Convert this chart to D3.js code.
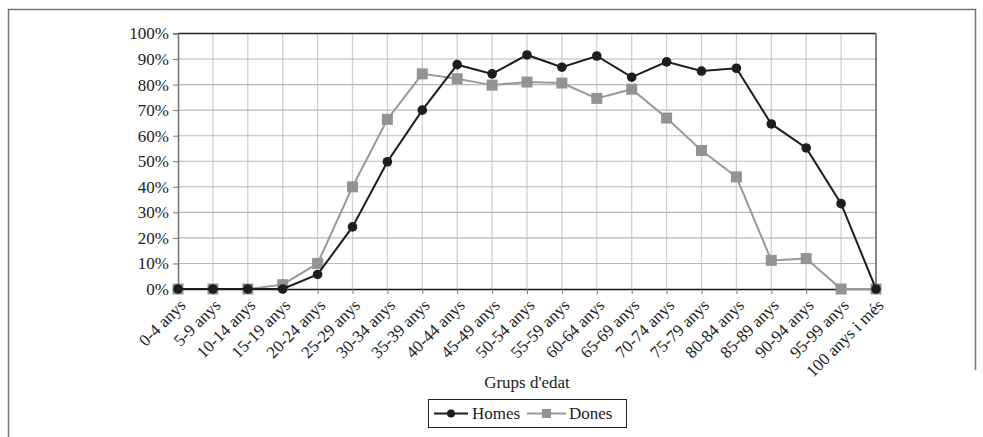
<!DOCTYPE html>
<html>
<head>
  <meta charset="utf-8">
  <script src="https://d3js.org/d3.v7.min.js"></script>
  <style>
    body { margin: 0; background: #fff; }
    svg, svg text { font-family: "Liberation Serif", "DejaVu Serif", serif; }
    .grid-v line { stroke: #d0d0d0; stroke-width: 1.3; }
    .grid-h line { stroke: #b8b8b8; stroke-width: 1.1; }
    .tick text { fill: #222; font-size: 17px; }
  </style>
</head>
<body>
  <svg id="chart" width="983" height="437"></svg>
  <script>
    // Age groups
    const groups = ["0-4 anys", "5-9 anys", "10-14 anys", "15-19 anys", "20-24 anys",
      "25-29 anys", "30-34 anys", "35-39 anys", "40-44 anys", "45-49 anys", "50-54 anys",
      "55-59 anys", "60-64 anys", "65-69 anys", "70-74 anys", "75-79 anys", "80-84 anys",
      "85-89 anys", "90-94 anys", "95-99 anys", "100 anys i més"];

    // Percentages
    const homes = [0, 0, 0, 0, 5.7, 24.3, 49.8, 70, 87.8, 84.2, 91.6, 86.8, 91.2, 82.9,
      88.9, 85.3, 86.4, 64.6, 55.2, 33.4, 0];
    const dones = [0, 0, 0, 1.7, 10, 40, 66.4, 84.2, 82.3, 79.8, 81, 80.6, 74.6, 78.2,
      66.9, 54.2, 43.9, 11.2, 11.9, 0, 0];

    const yTicks = d3.range(0, 101, 10);

    const svg = d3.select("#chart");
    const pLeft = 178, pRight = 876, pTop = 33.5, pBottom = 289;

    // outer frame
    svg.append("path")
      .attr("d", "M8.5,437 V9.5 H975.5 V370")
      .attr("fill", "none").attr("stroke", "#777").attr("stroke-width", 1.5);

    const x = d3.scalePoint().domain(groups).range([pLeft, pRight]);
    const y = d3.scaleLinear().domain([0, 100]).range([pBottom, pTop]);

    // gridlines
    svg.append("g").attr("class", "grid-v")
      .selectAll("line").data(groups.slice(1)).join("line")
      .attr("x1", d => x(d)).attr("x2", d => x(d))
      .attr("y1", pTop).attr("y2", pBottom);
    svg.append("g").attr("class", "grid-h")
      .selectAll("line").data(yTicks.slice(1, -1)).join("line")
      .attr("x1", pLeft).attr("x2", pRight)
      .attr("y1", d => y(d)).attr("y2", d => y(d));

    // plot frame: top and right
    svg.append("line").attr("x1", pLeft).attr("x2", pRight).attr("y1", pTop).attr("y2", pTop)
      .attr("stroke", "#222").attr("stroke-width", 1.3);
    svg.append("line").attr("x1", pRight).attr("x2", pRight).attr("y1", pTop).attr("y2", pBottom)
      .attr("stroke", "#555").attr("stroke-width", 1.3);

    // y axis
    const yAxis = svg.append("g").attr("transform", `translate(${pLeft},0)`)
      .call(d3.axisLeft(y).tickValues(yTicks).tickSize(5).tickFormat(d => d + "%"));
    yAxis.attr("font-family", null).attr("font-size", null);
    yAxis.select(".domain").attr("stroke", "#777").attr("stroke-width", 1.6);
    yAxis.selectAll(".tick line").attr("stroke", "#777");
    yAxis.selectAll(".tick text").attr("x", -9);

    // x axis
    const xAxis = svg.append("g").attr("transform", `translate(0,${pBottom})`)
      .call(d3.axisBottom(x).tickSize(5).tickSizeOuter(0));
    xAxis.attr("font-family", null).attr("font-size", null);
    xAxis.select(".domain").attr("stroke", "#111").attr("stroke-width", 1.4);
    xAxis.selectAll(".tick line").attr("stroke", "#777");
    xAxis.selectAll(".tick text")
      .attr("text-anchor", "end")
      .attr("dy", "0.35em")
      .attr("transform", "translate(4,13) rotate(-45)")
      .attr("x", 0).attr("y", 0);

    // axis title
    svg.append("text").attr("x", 527).attr("y", 388).attr("text-anchor", "middle")
      .attr("font-size", 17).attr("fill", "#222").text("Grups d'edat");

    const line = d3.line().x((d, i) => x(groups[i])).y(d => y(d));

    // Dones series
    svg.append("path").datum(dones)
      .attr("fill", "none").attr("stroke", "#999").attr("stroke-width", 2).attr("d", line);
    svg.append("g").selectAll("rect").data(dones).join("rect")
      .attr("x", (d, i) => x(groups[i]) - 5.5).attr("y", d => y(d) - 5.5)
      .attr("width", 11).attr("height", 11).attr("fill", "#939393");

    // Homes series
    svg.append("path").datum(homes)
      .attr("fill", "none").attr("stroke", "#1d1d1d").attr("stroke-width", 2).attr("d", line);
    svg.append("g").selectAll("circle").data(homes).join("circle")
      .attr("cx", (d, i) => x(groups[i])).attr("cy", d => y(d))
      .attr("r", 4.8).attr("fill", "#1d1d1d");

    // legend
    const lg = svg.append("g");
    lg.append("rect").attr("x", 428.5).attr("y", 399.5).attr("width", 198).attr("height", 28)
      .attr("fill", "#fff").attr("stroke", "#222").attr("stroke-width", 1);
    lg.append("line").attr("x1", 434).attr("x2", 468).attr("y1", 413.5).attr("y2", 413.5)
      .attr("stroke", "#1d1d1d").attr("stroke-width", 2);
    lg.append("circle").attr("cx", 451).attr("cy", 413.5).attr("r", 4).attr("fill", "#1d1d1d");
    lg.append("text").attr("x", 472).attr("y", 419).attr("font-size", 17).attr("fill", "#222").text("Homes");
    lg.append("line").attr("x1", 527).attr("x2", 566).attr("y1", 413.5).attr("y2", 413.5)
      .attr("stroke", "#999").attr("stroke-width", 2);
    lg.append("rect").attr("x", 542).attr("y", 409).attr("width", 9).attr("height", 9).attr("fill", "#939393");
    lg.append("text").attr("x", 569).attr("y", 419).attr("font-size", 17).attr("fill", "#222").text("Dones");
  </script>
</body>
</html>
